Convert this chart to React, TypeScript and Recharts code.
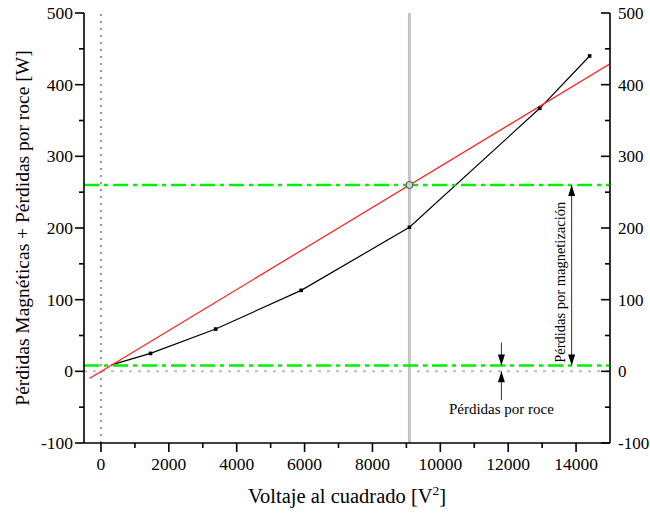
import React from 'react';
import {
    LineChart,
    Line,
    XAxis,
    YAxis,
    ReferenceLine,
    ReferenceDot,
    Label
} from 'recharts';

// measured points: V^2 vs magnetic + friction losses
const voltsSquared = [310, 1460, 3380, 5900, 9090, 12930, 14400];
const totalLosses = [9, 25, 59, 113, 201, 367, 440];

// straight-line fit through the rated point
const fitVoltsSquared = [-340, 15000];
const fitLosses = [-10, 429];

const frictionLoss = 8;
const ratedVoltsSquared = 9090;
const ratedLoss = 260;
const annotationX = 13870;
const frictionArrowX = 11800;
const frictionArrowSpan = [40, -40];

const xTicks = [0, 1000, 2000, 3000, 4000, 5000, 6000, 7000, 8000, 9000, 10000, 11000, 12000, 13000, 14000];
const yTicks = [-100, -50, 0, 50, 100, 150, 200, 250, 300, 350, 400, 450, 500];

const font = '"Liberation Serif", "Times New Roman", serif';
const green = '#00f000';
const minorLen = 5;
const majorLen = 9;

const measured = voltsSquared.map((x, i) => ({ x, y: totalLosses[i] }));
const fit = fitVoltsSquared.map((x, i) => ({ x, y: fitLosses[i] }));

// left/bottom: recharts draws the short (minor) tick, we extend the major ones
const LeftTick = (props: any) => {
    const { x, y, payload } = props;
    const major = payload.value % 100 === 0;
    if (!major) return <g />;
    return (
        <g>
            <line x1={x - (majorLen - minorLen)} x2={x} y1={y} y2={y} stroke="#000" strokeWidth={1.6} />
            <text x={x - 6} y={y} dy="0.35em" textAnchor="end" fontSize={17.5} fontFamily={font} fill="#000">
                {payload.value}
            </text>
        </g>
    );
};

const BottomTick = (props: any) => {
    const { x, y, payload } = props;
    const major = payload.value % 2000 === 0;
    if (!major) return <g />;
    return (
        <g>
            <line x1={x} x2={x} y1={y} y2={y + (majorLen - minorLen)} stroke="#000" strokeWidth={1.6} />
            <text x={x} y={y + 22} textAnchor="middle" fontSize={17.5} fontFamily={font} fill="#000">
                {payload.value}
            </text>
        </g>
    );
};

// right/top: ticks point into the plot
const RightTick = (props: any) => {
    const { x, y, payload } = props;
    const major = payload.value % 100 === 0;
    return (
        <g>
            <line x1={x - (major ? majorLen : minorLen)} x2={x} y1={y} y2={y} stroke="#000" strokeWidth={1.6} />
            {major && (
                <text x={x + 8} y={y} dy="0.35em" textAnchor="start" fontSize={17} fontFamily={font} fill="#000">
                    {payload.value}
                </text>
            )}
        </g>
    );
};

const TopTick = (props: any) => {
    const { x, y, payload } = props;
    const major = payload.value % 2000 === 0;
    return <line x1={x} x2={x} y1={y} y2={y + (major ? majorLen : minorLen)} stroke="#000" strokeWidth={1.6} />;
};

const head = (x: number, y: number, dir: number) => (
    <polygon points={`${x},${y} ${x - 3.5},${y - dir * 11} ${x + 3.5},${y - dir * 11}`} fill="#000" />
);

// double arrow with rotated caption
const MagnetizationArrow = (props: any) => {
    const { x1, y1, x2, y2 } = props;
    const midY = (y1 + y2) / 2 + 7;
    const tx = x1 - 12;
    return (
        <g>
            <line x1={x1} y1={y1} x2={x2} y2={y2} stroke="#333" strokeWidth={1} />
            {head(x1, y1, -1)}
            {head(x2, y2, 1)}
            <text
                x={tx}
                y={midY}
                dy="0.35em"
                textAnchor="middle"
                fontSize={14.5}
                fontFamily={font}
                fill="#000"
                transform={`rotate(-90 ${tx} ${midY})`}
            >
                Pérdidas por magnetización
            </text>
        </g>
    );
};

const DownArrow = (props: any) => {
    const { x1, y1, x2, y2 } = props;
    return (
        <g>
            <line x1={x1} y1={y1} x2={x2} y2={y2} stroke="#333" strokeWidth={1} />
            {head(x2, y2, y2 > y1 ? 1 : -1)}
        </g>
    );
};

const UpArrowWithCaption = (props: any) => {
    const { x1, y1, x2, y2 } = props;
    return (
        <g>
            <line x1={x1} y1={y1} x2={x2} y2={y2} stroke="#333" strokeWidth={1} />
            {head(x2, y2, y2 > y1 ? 1 : -1)}
            <text x={x1} y={y1 + 14} textAnchor="middle" fontSize={15} fontFamily={font} fill="#000">
                Pérdidas por roce
            </text>
        </g>
    );
};

const MarkerDot = (props: any) => {
    const { cx, cy, index } = props;
    if (index === 0) return <g key={`d${index}`} />;
    return <rect key={`d${index}`} x={cx - 1.8} y={cy - 1.8} width={3.6} height={3.6} fill="#000" />;
};

const axisStroke = { stroke: '#000', strokeWidth: 1.6 };

export default function App() {
    return (
        <div style={{ position: 'absolute', left: 0, top: 0, width: 650, height: 518, background: '#fff' }}>
            <LineChart width={650} height={518} margin={{ top: 13, right: 0, bottom: 0, left: 0 }}>
                <XAxis
                    xAxisId="bottom"
                    type="number"
                    dataKey="x"
                    domain={[-500, 15000]}
                    ticks={xTicks}
                    interval={0}
                    height={75}
                    tickSize={minorLen}
                    tickMargin={0}
                    tickLine={axisStroke}
                    tick={<BottomTick />}
                    axisLine={axisStroke}
                    allowDataOverflow
                >
                    <Label
                        content={() => (
                            <text x={347} y={503} textAnchor="middle" fontSize={20.5} fontFamily={font} fill="#000">
                                Voltaje al cuadrado [V<tspan dy={-8} fontSize={13.5}>2</tspan><tspan dy={8}>]</tspan>
                            </text>
                        )}
                    />
                </XAxis>
                <XAxis
                    xAxisId="top"
                    orientation="top"
                    type="number"
                    dataKey="x"
                    domain={[-500, 15000]}
                    ticks={xTicks}
                    interval={0}
                    height={0}
                    tickSize={0}
                    tickMargin={0}
                    tick={<TopTick />}
                    axisLine={axisStroke}
                    allowDataOverflow
                />
                <YAxis
                    yAxisId="left"
                    type="number"
                    domain={[-100, 500]}
                    ticks={yTicks}
                    interval={0}
                    width={84}
                    tickSize={minorLen}
                    tickMargin={0}
                    tickLine={axisStroke}
                    tick={<LeftTick />}
                    axisLine={axisStroke}
                    allowDataOverflow
                >
                    <Label
                        content={() => (
                            <text
                                x={22}
                                y={228}
                                dy="0.35em"
                                textAnchor="middle"
                                fontSize={19.5}
                                fontFamily={font}
                                fill="#000"
                                transform="rotate(-90 22 228)"
                            >
                                Pérdidas Magnéticas + Pérdidas por roce [W]
                            </text>
                        )}
                    />
                </YAxis>
                <YAxis
                    yAxisId="right"
                    orientation="right"
                    type="number"
                    domain={[-100, 500]}
                    ticks={yTicks}
                    interval={0}
                    width={40}
                    tickSize={0}
                    tickMargin={0}
                    tick={<RightTick />}
                    axisLine={axisStroke}
                    allowDataOverflow
                />

                <ReferenceLine xAxisId="bottom" yAxisId="left" x={0} stroke="#808080" strokeWidth={1.6} strokeDasharray="2 5" />
                <ReferenceLine xAxisId="bottom" yAxisId="left" y={0} stroke="#bdbdbd" strokeWidth={2} strokeDasharray="3 6" />

                <Line
                    xAxisId="bottom"
                    yAxisId="left"
                    data={measured}
                    dataKey="y"
                    type="linear"
                    stroke="#000"
                    strokeWidth={1.2}
                    dot={<MarkerDot />}
                    activeDot={false}
                    isAnimationActive={false}
                />

                <ReferenceLine xAxisId="bottom" yAxisId="left" x={ratedVoltsSquared} stroke="#c4c4c4" strokeWidth={3} />

                <Line
                    xAxisId="bottom"
                    yAxisId="left"
                    data={fit}
                    dataKey="y"
                    type="linear"
                    stroke="#ff1a1a"
                    strokeWidth={1.2}
                    dot={false}
                    activeDot={false}
                    isAnimationActive={false}
                />

                <ReferenceLine xAxisId="bottom" yAxisId="left" y={ratedLoss} stroke={green} strokeWidth={2.5} strokeDasharray="15 5 4 5" />
                <ReferenceLine xAxisId="bottom" yAxisId="left" y={frictionLoss} stroke={green} strokeWidth={2.5} strokeDasharray="15 5 4 5" />

                <ReferenceDot xAxisId="bottom" yAxisId="left" x={ratedVoltsSquared} y={ratedLoss} r={3.5} fill="#d0d0d0" stroke="#444" strokeWidth={1} />

                <ReferenceLine
                    xAxisId="bottom"
                    yAxisId="left"
                    segment={[{ x: annotationX, y: ratedLoss }, { x: annotationX, y: frictionLoss }]}
                    shape={MagnetizationArrow}
                />
                <ReferenceLine
                    xAxisId="bottom"
                    yAxisId="left"
                    segment={[{ x: frictionArrowX, y: frictionArrowSpan[0] }, { x: frictionArrowX, y: frictionLoss }]}
                    shape={DownArrow}
                />
                <ReferenceLine
                    xAxisId="bottom"
                    yAxisId="left"
                    segment={[{ x: frictionArrowX, y: frictionArrowSpan[1] }, { x: frictionArrowX, y: 0 }]}
                    shape={UpArrowWithCaption}
                />
            </LineChart>
        </div>
    );
}
